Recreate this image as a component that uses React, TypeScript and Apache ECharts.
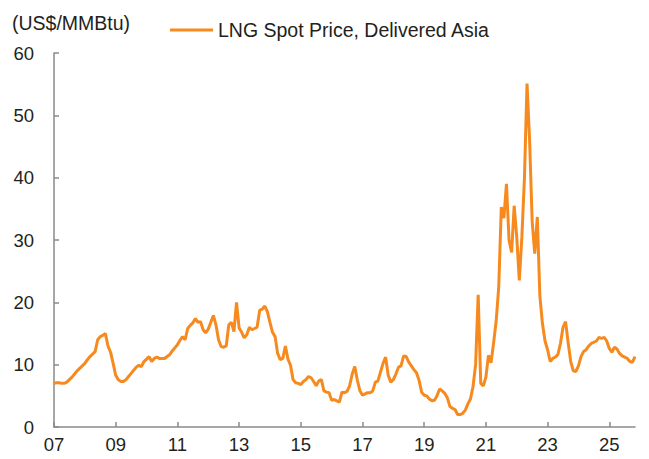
import React, { useEffect, useRef } from "react";
import * as echarts from "echarts";

// Monthly values, Jan 2007 .. Nov 2025 (US$/MMBtu)
const y2007 = [7.0, 7.1, 7.1, 7.0, 7.0, 7.2, 7.6, 8.0, 8.5, 9.0, 9.4, 9.8];
const y2008 = [10.2, 10.8, 11.3, 11.7, 12.1, 14.0, 14.5, 14.7, 15.0, 13.0, 12.0, 10.2];
const y2009 = [8.3, 7.6, 7.3, 7.3, 7.6, 8.1, 8.6, 9.1, 9.6, 9.9, 9.7, 10.5];
const y2010 = [10.9, 11.3, 10.5, 11.0, 11.2, 11.0, 11.0, 11.0, 11.3, 11.6, 12.2, 12.7];
const y2011 = [13.2, 13.9, 14.5, 14.0, 15.8, 16.3, 16.7, 17.4, 16.8, 16.9, 15.6, 15.1];
const y2012 = [15.7, 16.8, 17.9, 16.4, 14.0, 12.9, 12.8, 13.0, 16.4, 16.8, 15.3, 20.0];
const y2013 = [15.9, 15.2, 14.3, 14.8, 16.0, 15.6, 15.8, 16.0, 18.7, 18.9, 19.4, 18.5];
const y2014 = [16.8, 15.2, 14.5, 11.8, 10.8, 11.0, 13.0, 10.9, 9.9, 7.6, 7.1, 7.0];
const y2015 = [6.8, 7.3, 7.6, 8.1, 7.9, 7.3, 6.6, 7.4, 7.6, 5.8, 5.6, 5.5];
const y2016 = [4.3, 4.4, 4.2, 4.0, 5.6, 5.5, 5.7, 6.6, 8.5, 9.7, 7.5, 5.8];
const y2017 = [5.1, 5.3, 5.5, 5.5, 5.8, 7.2, 7.4, 8.8, 10.2, 11.2, 8.3, 7.2];
const y2018 = [7.6, 8.5, 9.6, 9.8, 11.4, 11.3, 10.4, 9.8, 9.2, 8.7, 7.5, 5.6];
const y2019 = [5.1, 5.0, 4.5, 4.2, 4.3, 5.0, 6.1, 5.8, 5.4, 4.7, 3.3, 3.0];
const y2020 = [2.8, 2.0, 2.0, 2.2, 2.7, 3.7, 4.5, 6.5, 10.0, 21.2, 7.0, 6.6];
const y2021 = [8.0, 11.5, 10.3, 13.5, 17.0, 22.5, 35.3, 33.5, 39.0, 30.0, 28.0, 35.5];
const y2022 = [30.5, 23.5, 30.5, 40.0, 55.1, 46.0, 33.0, 27.8, 33.7, 21.0, 16.6, 13.8];
const y2023 = [12.4, 10.5, 11.0, 11.2, 11.6, 13.4, 16.0, 16.9, 13.5, 10.5, 9.0, 8.9];
const y2024 = [9.8, 11.3, 12.1, 12.4, 13.0, 13.4, 13.6, 13.8, 14.4, 14.2, 14.4, 13.8];
const y2025 = [12.6, 12.0, 12.8, 12.5, 11.8, 11.4, 11.2, 11.0, 10.5, 10.4, 11.3];

const lngValues = [
  ...y2007, ...y2008, ...y2009, ...y2010, ...y2011, ...y2012, ...y2013,
  ...y2014, ...y2015, ...y2016, ...y2017, ...y2018, ...y2019, ...y2020,
  ...y2021, ...y2022, ...y2023, ...y2024, ...y2025,
];

const startYear = 2007;
const months = lngValues.map((_, i) => {
  const y = startYear + Math.floor(i / 12);
  const m = (i % 12) + 1;
  return `${y}-${m < 10 ? "0" + m : m}`;
});

const seriesName = "LNG Spot Price, Delivered Asia";
const unitLabel = "(US$/MMBtu)";
const yTicks = { min: 0, max: 60, interval: 10 };

export default function App() {
  const ref = useRef<HTMLDivElement>(null);
  useEffect(() => {
    if (!ref.current) return;
    const chart = echarts.init(ref.current, undefined, { renderer: "svg" });
    const font = "'Liberation Sans', Arial, Helvetica, sans-serif";
    const axisColor = "#8a8a8a";
    const textColor = "#231f20";
    const lineColor = "#f68a1e";
    const showIdx = (i: number) => i % 24 === 0;
    chart.setOption({
      animation: false,
      textStyle: { fontFamily: font },
      title: {
        text: unitLabel,
        left: 12,
        top: 13,
        padding: 0,
        textStyle: { fontSize: 19.5, fontWeight: "normal", color: textColor, fontFamily: font },
      },
      legend: {
        left: 170,
        top: 20,
        padding: 0,
        icon: "rect",
        itemWidth: 43,
        itemHeight: 3,
        textStyle: { fontSize: 19.5, color: textColor, fontFamily: font },
        data: [{ name: seriesName, icon: "rect", itemStyle: { color: lineColor } }],
      },
      grid: { left: 54, right: 14, top: 53, bottom: 32, containLabel: false },
      xAxis: {
        type: "category",
        data: months,
        boundaryGap: false,
        axisLine: { lineStyle: { color: axisColor, width: 1.5 } },
        axisTick: { inside: true, length: 5, interval: (i: number) => showIdx(i), lineStyle: { color: axisColor, width: 1.5 } },
        axisLabel: {
          interval: (i: number) => showIdx(i),
          formatter: (v: string) => v.slice(2, 4),
          fontSize: 18.5,
          color: textColor,
          margin: 8,
          fontFamily: font,
        },
        splitLine: { show: false },
      },
      yAxis: {
        type: "value",
        min: yTicks.min,
        max: yTicks.max,
        interval: yTicks.interval,
        axisLine: { show: true, lineStyle: { color: axisColor, width: 1.5 } },
        axisTick: { show: true, inside: true, length: 5, lineStyle: { color: axisColor, width: 1.5 } },
        axisLabel: { fontSize: 18.5, color: textColor, margin: 20, fontFamily: font },
        splitLine: { show: false },
      },
      series: [
        {
          name: seriesName,
          type: "line",
          data: lngValues,
          symbol: "none",
          lineStyle: { color: lineColor, width: 3 },
          itemStyle: { color: lineColor },
        },
      ],
    });
    return () => chart.dispose();
  }, []);
  return (
    <div
      ref={ref}
      style={{ position: "absolute", left: 0, top: 0, width: 649, height: 459 }}
    />
  );
}
